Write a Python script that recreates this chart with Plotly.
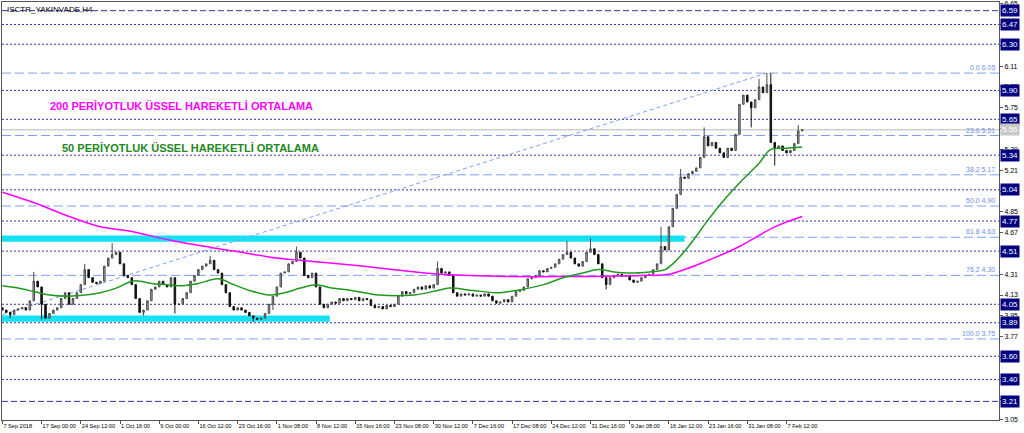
import plotly.graph_objects as go

# ---------------- data ----------------
closes = [
    4.00, 3.98, 3.96, 4.00, 4.01, 4.02, 4.00, 4.08, 4.25, 4.20,
    4.05, 3.93, 3.97, 4.00, 4.02, 4.10, 4.15, 4.05, 4.10, 4.15,
    4.22, 4.35, 4.28, 4.24, 4.23, 4.25, 4.38, 4.45, 4.48, 4.50,
    4.40, 4.30, 4.28, 4.22, 4.10, 3.98, 4.00, 4.08, 4.18, 4.20,
    4.25, 4.22, 4.20, 4.28, 4.05, 4.05, 4.10, 4.15, 4.25, 4.30,
    4.35, 4.38, 4.40, 4.43, 4.35, 4.32, 4.22, 4.15, 4.03, 4.00,
    4.02, 4.00, 3.98, 3.95, 3.93, 3.92, 3.93, 3.97, 4.05, 4.12,
    4.20, 4.32, 4.33, 4.40, 4.42, 4.50, 4.45, 4.30, 4.28, 4.32,
    4.20, 4.05, 4.02, 4.05, 4.07, 4.06, 4.10, 4.08, 4.10, 4.09,
    4.11, 4.08, 4.10, 4.09, 4.04, 4.02, 4.03, 4.01, 4.04, 4.03,
    4.05, 4.12, 4.16, 4.14, 4.15, 4.18, 4.20, 4.18, 4.21, 4.19,
    4.22, 4.36, 4.32, 4.33, 4.30, 4.15, 4.12, 4.14, 4.13, 4.14,
    4.12, 4.13, 4.12, 4.14, 4.12, 4.08, 4.06, 4.07, 4.09, 4.07,
    4.12, 4.16, 4.17, 4.20, 4.27, 4.28, 4.30, 4.34, 4.33, 4.36,
    4.37, 4.40, 4.44, 4.48, 4.50, 4.45, 4.40, 4.38, 4.42, 4.50,
    4.53, 4.48, 4.40, 4.28, 4.22, 4.28, 4.30, 4.31, 4.29, 4.30,
    4.26, 4.24, 4.25, 4.28, 4.30, 4.31, 4.35, 4.40, 4.55, 4.52,
    4.72, 4.88, 5.00, 5.15, 5.14, 5.18, 5.20, 5.23, 5.32, 5.50,
    5.42, 5.45, 5.40, 5.36, 5.32, 5.40, 5.38, 5.52, 5.78, 5.86,
    5.80, 5.75, 5.82, 5.93, 5.88, 5.95, 5.45, 5.40, 5.42, 5.38,
    5.36, 5.38, 5.44, 5.55, 5.56,
]
first_open = 4.02
wick_high = {8: 4.33, 21: 4.40, 28: 4.58, 53: 4.47, 75: 4.55, 111: 4.42,
             144: 4.60, 150: 4.62, 168: 4.72, 173: 5.22, 179: 5.58,
             193: 6.00, 195: 6.05, 196: 6.05, 203: 5.60}
wick_low = {2: 3.93, 10: 3.92, 36: 3.95, 44: 3.97, 64: 3.90, 69: 4.00,
            154: 4.18, 168: 4.40, 191: 5.58, 197: 5.25}

ema200_idx = [0, 8, 17, 25, 33, 42, 50, 59, 68, 76, 89, 112, 130, 143, 163, 170, 180, 188, 197, 204]
ema200_val = [5.02, 4.93, 4.81, 4.72, 4.68, 4.61, 4.56, 4.51, 4.46, 4.43, 4.39, 4.31, 4.29, 4.29,
              4.30, 4.31, 4.43, 4.55, 4.72, 4.81]

ema50_idx = [0, 4, 8, 12, 17, 21, 25, 29, 33, 35, 38, 42, 46, 50, 55, 59, 63, 68, 72, 76,
             80, 84, 89, 96, 105, 111, 114, 120, 126, 131, 138, 143, 148, 152, 156, 160, 165,
             169, 171, 175, 180, 184, 188, 193, 196, 200, 204]
ema50_val = [4.21, 4.19, 4.16, 4.13, 4.12, 4.13, 4.15, 4.19, 4.25, 4.25, 4.23, 4.22, 4.21, 4.23,
             4.27, 4.22, 4.17, 4.13, 4.15, 4.19, 4.22, 4.19, 4.17, 4.13, 4.13, 4.17, 4.19, 4.17,
             4.15, 4.17, 4.22, 4.28, 4.32, 4.35, 4.33, 4.32, 4.33, 4.35, 4.40, 4.55, 4.78, 4.95,
             5.10, 5.27, 5.39, 5.40, 5.41]

level_prices = [6.59, 6.47, 6.30, 5.90, 5.65, 5.34, 5.04, 4.77, 4.51, 4.05, 3.89, 3.60, 3.40, 3.21]
fib_ratios = ["0.0", "23.6", "38.2", "50.0", "61.8", "76.2", "100.0"]
fib_prices = [6.05, 5.51, 5.17, 4.90, 4.63, 4.30, 3.75]
fib_trend_idx = [0, 195]
fib_trend_price = [3.96, 6.05]

bid_price = 5.56
zone_low = [4.592, 3.900]
zone_high = [4.644, 3.952]
zone_end_idx = [174, 83.5]

tick_idx = list(range(0, 201, 10))
tick_text = ["7 Sep 2018", "17 Sep 00:00", "24 Sep 12:00", "1 Oct 16:00", "9 Oct 00:00",
             "16 Oct 12:00", "23 Oct 16:00", "1 Nov 08:00", "8 Nov 12:00", "15 Nov 16:00",
             "23 Nov 08:00", "30 Nov 12:00", "7 Dec 16:00", "17 Dec 08:00", "24 Dec 12:00",
             "31 Dec 16:00", "9 Jan 08:00", "16 Jan 12:00", "23 Jan 16:00", "31 Jan 08:00",
             "7 Feb 12:00"]

title_text = "ISCTR_YAKINVADE,H4"
label_200 = "200 PERİYOTLUK ÜSSEL HAREKETLİ ORTALAMA"
label_50 = "50 PERİYOTLUK ÜSSEL HAREKETLİ ORTALAMA"

# ---------------- build ----------------
opens = [first_open] + closes[:-1]
highs = [max(o, c) for o, c in zip(opens, closes)]
lows = [min(o, c) for o, c in zip(opens, closes)]
for k, v in wick_high.items():
    highs[k] = max(highs[k], v)
for k, v in wick_low.items():
    lows[k] = min(lows[k], v)
idx = list(range(len(closes)))

X0, X1 = -0.1, 254.2
Y0, Y1 = 3.049, 6.665
FONT = "Liberation Sans, Arial"

fig = go.Figure()

shapes = []
for lo, hi, xe in zip(zone_low, zone_high, zone_end_idx):
    shapes.append(dict(type="rect", xref="x", yref="y", x0=X0, x1=xe, y0=lo, y1=hi,
                       fillcolor="#14e2f2", line=dict(width=0), layer="below"))
for i, p in enumerate(level_prices):
    dash = "6px,3px" if i in (0, len(level_prices) - 1) else "2px,2px"
    shapes.append(dict(type="line", xref="paper", yref="y", x0=0, x1=1, y0=p, y1=p,
                       line=dict(color="#3232a8", width=1, dash=dash), layer="below"))
for p in fib_prices:
    shapes.append(dict(type="line", xref="paper", yref="y", x0=0, x1=1, y0=p, y1=p,
                       line=dict(color="#7f9ff0", width=1, dash="9px,4px"), layer="below"))
shapes.append(dict(type="line", xref="paper", yref="y", x0=0, x1=1, y0=bid_price, y1=bid_price,
                   line=dict(color="#cfcfcf", width=1.5), layer="below"))
shapes.append(dict(type="line", xref="x", yref="y", x0=fib_trend_idx[0], x1=fib_trend_idx[1],
                   y0=fib_trend_price[0], y1=fib_trend_price[1],
                   line=dict(color="#7f9ff0", width=1, dash="4px,3px"), layer="below"))

fig.add_trace(go.Scatter(x=ema200_idx, y=ema200_val, mode="lines",
                         line=dict(color="#ff00ff", width=1.5, shape="spline"), hoverinfo="skip"))
fig.add_trace(go.Scatter(x=ema50_idx, y=ema50_val, mode="lines",
                         line=dict(color="#1f9a1f", width=1.5, shape="spline"), hoverinfo="skip"))
fig.add_trace(go.Candlestick(
    x=idx, open=opens, high=highs, low=lows, close=closes,
    increasing=dict(fillcolor="#b0b0b0", line=dict(color="#4a4a4a", width=1)),
    decreasing=dict(fillcolor="#111111", line=dict(color="#111111", width=1)),
    whiskerwidth=0,
))

ann = []
for p in level_prices:
    ann.append(dict(xref="paper", yref="y", x=1, y=p, xanchor="left", yanchor="middle",
                    xshift=1, text="%.2f" % p, showarrow=False, bgcolor="#000080",
                    font=dict(family=FONT, size=8, color="white"), borderpad=1))
ann.append(dict(xref="paper", yref="y", x=1, y=bid_price, xanchor="left", yanchor="middle",
                xshift=1, text="%.2f" % bid_price, showarrow=False, bgcolor="#c8c8c8",
                font=dict(family=FONT, size=8, color="white"), borderpad=1))
for r, p in zip(fib_ratios, fib_prices):
    ann.append(dict(xref="paper", yref="y", x=0.998, y=p, xanchor="right", yanchor="bottom",
                    text="%s %.2f" % (r, p), showarrow=False,
                    font=dict(family=FONT, size=7, color="#6f8ee8")))
ann.append(dict(xref="paper", yref="paper", x=0.003, y=0.997, xanchor="left", yanchor="top",
                text=title_text, showarrow=False,
                font=dict(family=FONT, size=8, color="black")))
ann.append(dict(xref="paper", yref="paper", x=(48 - 2) / 997, y=1 - (106 - 2) / 418,
                xanchor="left", yanchor="middle", text="<b>%s</b>" % label_200, showarrow=False,
                font=dict(family=FONT, size=11, color="#ff00ff")))
ann.append(dict(xref="paper", yref="paper", x=(60 - 2) / 997, y=1 - (148 - 2) / 418,
                xanchor="left", yanchor="middle", text="<b>%s</b>" % label_50, showarrow=False,
                font=dict(family=FONT, size=11, color="#1c8a1c")))

fig.update_layout(
    width=1024, height=433,
    margin=dict(l=2, r=25, t=2, b=13, autoexpand=False),
    paper_bgcolor="white", plot_bgcolor="white",
    showlegend=False, shapes=shapes, annotations=ann, boxgap=0.45,
    xaxis=dict(range=[X0, X1], rangeslider=dict(visible=False), showgrid=False, zeroline=False,
               tickmode="array", tickvals=tick_idx, ticktext=tick_text, tickangle=0,
               automargin=False,
               ticks="outside", ticklen=3, tickcolor="#555555",
               ticklabelposition="outside right",
               tickfont=dict(family=FONT, size=5.6, color="black"),
               showline=True, linecolor="#555555", mirror=True),
    yaxis=dict(range=[Y0, Y1], side="right", showgrid=False, zeroline=False,
               tick0=6.65, dtick=0.18, tickformat=".2f", automargin=False,
               ticks="outside", ticklen=3, tickcolor="#555555",
               tickfont=dict(family=FONT, size=7, color="black"),
               showline=True, linecolor="#555555", mirror=True),
)

fig.write_html("out.html", config={"displayModeBar": False},
               post_script="document.body.style.margin='0';document.body.style.padding='0';")
